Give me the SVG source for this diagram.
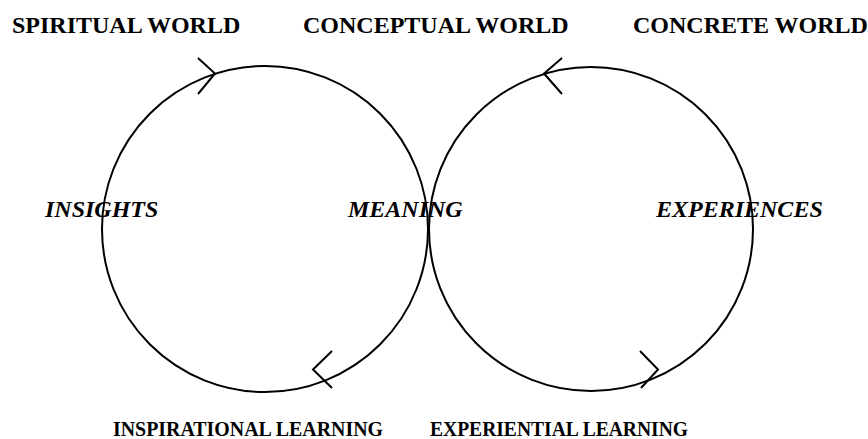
<svg xmlns="http://www.w3.org/2000/svg" width="868" height="439" viewBox="0 0 868 439">
<style>
.lbl{font-family:"Liberation Serif","Times New Roman",serif;font-weight:bold;fill:#000}
.top{font-size:24px}
.mid{font-size:24px;font-style:italic}
.bot{font-size:20.5px}
.ln{fill:none;stroke:#000;stroke-width:2}
</style>
<rect width="868" height="439" fill="#fff"/>
<g id="connectors">
<circle id="left-cycle" class="ln" cx="265" cy="229" r="163"/>
<circle id="right-cycle" class="ln" cx="591" cy="229" r="162"/>
<polyline class="ln" points="198,58 215,73.5 198,94"/>
<polyline class="ln" points="562,58 544,73.5 562,94"/>
<polyline class="ln" points="332,351 313,369.5 332,388"/>
<polyline class="ln" points="640,351 658,369.5 641,388"/>
</g>
<g id="spiritual-world"><text class="lbl top" x="12" y="33">SPIRITUAL WORLD</text></g>
<g id="conceptual-world"><text class="lbl top" x="303" y="33">CONCEPTUAL WORLD</text></g>
<g id="concrete-world"><text class="lbl top" x="633" y="33">CONCRETE WORLD</text></g>
<g id="insights"><text class="lbl mid" x="45" y="217">INSIGHTS</text></g>
<g id="meaning"><text class="lbl mid" x="348" y="217">MEANING</text></g>
<g id="experiences"><text class="lbl mid" x="656" y="217">EXPERIENCES</text></g>
<g id="inspirational-learning"><text class="lbl bot" x="113" y="436" textLength="270" lengthAdjust="spacingAndGlyphs">INSPIRATIONAL LEARNING</text></g>
<g id="experiential-learning"><text class="lbl bot" x="430" y="436" textLength="258" lengthAdjust="spacingAndGlyphs">EXPERIENTIAL LEARNING</text></g>
</svg>
